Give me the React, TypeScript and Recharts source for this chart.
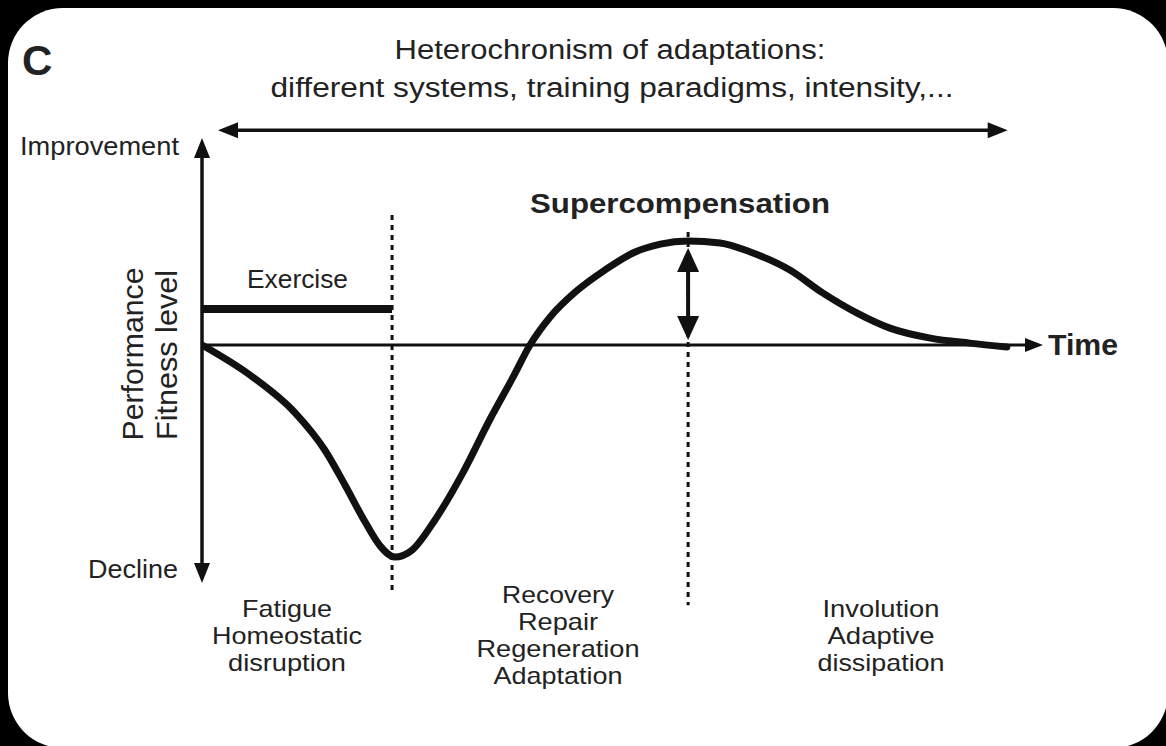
import React from 'react';
import {
  ComposedChart,
  Line,
  XAxis,
  YAxis,
  ReferenceLine,
  ReferenceDot,
  Customized,
} from 'recharts';

// ---- data (time in arbitrary units 0..100, performance level -100..87) ----
const curveTime = [
  0, 5.7, 11.1, 14.6, 17.0, 19.4, 21.2, 22.9, 25.0, 27.7, 31.0, 34.2, 37.0,
  39.0, 41.4, 44.4, 47.9, 51.5, 54.5, 57.8, 61.6, 65.2, 69.9, 73.8, 77.9, 81.8,
  86.6, 91.3, 95.7,
];
const curveLevel = [
  0, -12.6, -28.6, -44.1, -58.8, -74.4, -84.5, -89.1, -86.1, -73.5, -53.8,
  -31.5, -13.4, 0, 11.8, 22.3, 31.5, 39.1, 42.4, 43.7, 42.9, 39.1, 31.5, 21.9,
  13.4, 7.1, 2.9, 0.8, -0.8,
];

const timeDomain = [0, 100];
const levelDomain = [-100, 87];

const exerciseStart = 0;
const exerciseEnd = 22.6;
const exerciseLevel = 15.1;

const troughTime = 22.6;
const troughLineTop = 54.6;
const troughLineBottom = -105;

const peakTime = 57.8;
const peakLineTop = 47.5;
const peakLineBottom = -109.3;
const superArrowTop = 40.8;
const superArrowBottom = 2.1;

const spanArrowLevel = 90.3;
const spanArrowStart = 1.9;
const spanArrowEnd = 95.8;

const titleLines = [
  'Heterochronism of adaptations:',
  'different systems, training paradigms, intensity,...',
];
const phaseFatigue = ['Fatigue', 'Homeostatic', 'disruption'];
const phaseFatigueWidths = [90, 150, 118];
const phaseRecovery = ['Recovery', 'Repair', 'Regeneration', 'Adaptation'];
const phaseRecoveryWidths = [112, 80, 163, 129];
const phaseInvolution = ['Involution', 'Adaptive', 'dissipation'];
const phaseInvolutionWidths = [117, 107, 127];

const curveData = curveTime.map((t, i) => ({ t, v: curveLevel[i] }));

const INK = '#111';
const TEXT = '#222';
const FONT = '"Liberation Sans", Arial, Helvetica, sans-serif';

const arrowHead =
  (dir: 'up' | 'down' | 'left' | 'right', len: number, half: number) =>
  (props: any) => {
    const { cx, cy } = props;
    let d = '';
    if (dir === 'right') d = `M${cx},${cy} L${cx - len},${cy - half} L${cx - len},${cy + half} Z`;
    if (dir === 'left') d = `M${cx},${cy} L${cx + len},${cy - half} L${cx + len},${cy + half} Z`;
    if (dir === 'up') d = `M${cx},${cy} L${cx - half},${cy + len} L${cx + half},${cy + len} Z`;
    if (dir === 'down') d = `M${cx},${cy} L${cx - half},${cy - len} L${cx + half},${cy - len} Z`;
    return <path d={d} fill={INK} stroke="none" />;
  };

type T = {
  s: string;
  x: number;
  y: number;
  size: number;
  len?: number;
  bold?: boolean;
  anchor?: 'start' | 'middle' | 'end';
  rotate?: boolean;
};

const LINE_GAP = 27;
const phaseBlock = (lines: string[], widths: number[], x: number, y0: number): T[] =>
  lines.map((s, i) => ({ s, x, y: y0 + i * LINE_GAP, size: 24, len: widths[i], anchor: 'middle' }));

const labels: T[] = [
  { s: 'C', x: 22, y: 75, size: 42, bold: true, anchor: 'start' },
  { s: titleLines[0], x: 610, y: 59, size: 27, len: 431, anchor: 'middle' },
  { s: titleLines[1], x: 612, y: 97, size: 27, len: 683, anchor: 'middle' },
  { s: 'Improvement', x: 20, y: 155, size: 25, len: 159, anchor: 'start' },
  { s: 'Decline', x: 88, y: 578, size: 25, len: 90, anchor: 'start' },
  { s: 'Exercise', x: 247, y: 288, size: 25, len: 101, anchor: 'start' },
  { s: 'Supercompensation', x: 680, y: 213, size: 28, len: 300, bold: true, anchor: 'middle' },
  { s: 'Time', x: 1048, y: 355, size: 30, len: 70, bold: true, anchor: 'start' },
  { s: 'Performance', x: 143, y: 354, size: 29, len: 173, anchor: 'middle', rotate: true },
  { s: 'Fitness level', x: 177, y: 355, size: 29, len: 170, anchor: 'middle', rotate: true },
  ...phaseBlock(phaseFatigue, phaseFatigueWidths, 287, 617),
  ...phaseBlock(phaseRecovery, phaseRecoveryWidths, 558, 603),
  ...phaseBlock(phaseInvolution, phaseInvolutionWidths, 881, 617),
];

const Annotations = () => (
  <g fontFamily={FONT} fill={TEXT}>
    {labels.map((l, i) => (
      <text
        key={i}
        x={l.x}
        y={l.y}
        fontSize={l.size}
        fontWeight={l.bold ? 700 : 400}
        textAnchor={l.anchor || 'start'}
        textLength={l.len}
        lengthAdjust={l.len ? 'spacingAndGlyphs' : undefined}
        transform={l.rotate ? `rotate(-90 ${l.x} ${l.y})` : undefined}
      >
        {l.s}
      </text>
    ))}
  </g>
);

export default function App() {
  return (
    <div
      style={{
        position: 'fixed',
        left: 0,
        top: 0,
        width: 1166,
        height: 746,
        background: '#000',
        overflow: 'hidden',
      }}
    >
      <div
        style={{
          position: 'absolute',
          left: 8,
          top: 8,
          width: 1160,
          height: 740,
          background: '#fff',
          borderRadius: 55,
        }}
      />
      <div style={{ position: 'absolute', left: 0, top: 0 }}>
        <ComposedChart
          width={1166}
          height={746}
          data={curveData}
          margin={{ top: 138, right: 123, bottom: 163, left: 202 }}
        >
          <XAxis dataKey="t" type="number" domain={timeDomain} hide allowDataOverflow />
          <YAxis type="number" domain={levelDomain} hide allowDataOverflow />

          {/* top span arrow */}
          <ReferenceLine
            segment={[{ x: spanArrowStart + 1, y: spanArrowLevel }, { x: spanArrowEnd - 1, y: spanArrowLevel }]}
            stroke={INK}
            strokeWidth={3.5}
            ifOverflow="visible"
          />
          <ReferenceDot x={spanArrowStart} y={spanArrowLevel} ifOverflow="visible" shape={arrowHead('left', 20, 8)} />
          <ReferenceDot x={spanArrowEnd} y={spanArrowLevel} ifOverflow="visible" shape={arrowHead('right', 20, 8)} />

          {/* y axis */}
          <ReferenceLine
            segment={[{ x: 0, y: levelDomain[1] - 3 }, { x: 0, y: levelDomain[0] + 3 }]}
            stroke={INK}
            strokeWidth={3.5}
            ifOverflow="visible"
          />
          <ReferenceDot x={0} y={levelDomain[1]} ifOverflow="visible" shape={arrowHead('up', 20, 8)} />
          <ReferenceDot x={0} y={levelDomain[0]} ifOverflow="visible" shape={arrowHead('down', 20, 8)} />

          {/* time axis */}
          <ReferenceLine
            segment={[{ x: 0, y: 0 }, { x: timeDomain[1] - 1, y: 0 }]}
            stroke={INK}
            strokeWidth={3}
            ifOverflow="visible"
          />
          <ReferenceDot x={timeDomain[1]} y={0} ifOverflow="visible" shape={arrowHead('right', 18, 7)} />

          {/* dotted phase lines */}
          <ReferenceLine
            segment={[{ x: troughTime, y: troughLineTop }, { x: troughTime, y: troughLineBottom }]}
            stroke={INK}
            strokeWidth={3}
            strokeDasharray="5 5"
            ifOverflow="visible"
          />
          <ReferenceLine
            segment={[{ x: peakTime, y: peakLineTop }, { x: peakTime, y: peakLineBottom }]}
            stroke={INK}
            strokeWidth={3}
            strokeDasharray="5 5"
            ifOverflow="visible"
          />

          {/* exercise bar */}
          <ReferenceLine
            segment={[{ x: exerciseStart, y: exerciseLevel }, { x: exerciseEnd, y: exerciseLevel }]}
            stroke={INK}
            strokeWidth={8}
            ifOverflow="visible"
          />

          {/* supercompensation double arrow */}
          <ReferenceLine
            segment={[{ x: peakTime, y: superArrowTop - 3 }, { x: peakTime, y: superArrowBottom + 3 }]}
            stroke={INK}
            strokeWidth={4}
            ifOverflow="visible"
          />
          <ReferenceDot x={peakTime} y={superArrowTop} ifOverflow="visible" shape={arrowHead('up', 24, 11)} />
          <ReferenceDot x={peakTime} y={superArrowBottom} ifOverflow="visible" shape={arrowHead('down', 24, 11)} />

          <Line
            dataKey="v"
            type="monotone"
            stroke={INK}
            strokeWidth={7}
            dot={false}
            activeDot={false}
            isAnimationActive={false}
            strokeLinecap="round"
            strokeLinejoin="round"
          />

          <Customized component={Annotations} />
        </ComposedChart>
      </div>
    </div>
  );
}
